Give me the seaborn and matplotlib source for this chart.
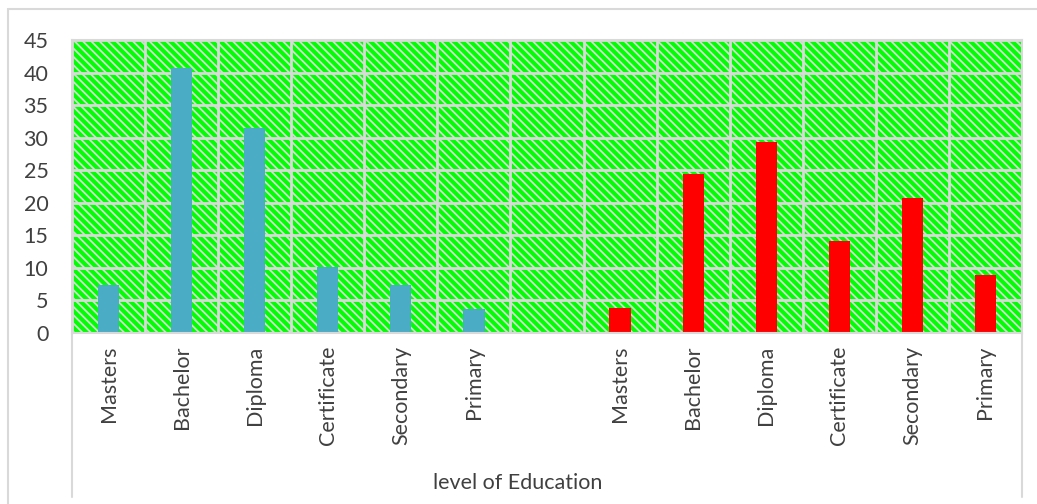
import matplotlib
matplotlib.use("Agg")
import matplotlib.pyplot as plt
from matplotlib.patches import Rectangle
from matplotlib.lines import Line2D
import seaborn as sns
import pandas as pd
import numpy as np

# Education levels, two groups separated by an empty slot
levels = ["Masters", "Bachelor", "Diploma", "Certificate", "Secondary", "Primary"]
group_a = [7.4, 40.7, 31.5, 10.2, 7.4, 3.7]
group_b = [3.9, 24.4, 29.4, 14.1, 20.7, 8.9]
y_ticks = [0, 5, 10, 15, 20, 25, 30, 35, 40, 45]
x_title = "level of Education"

tick_labels = levels + [""] + levels
slots = list(range(len(tick_labels)))

df = pd.DataFrame({
    "slot": slots[:6] + slots[7:],
    "value": group_a + group_b,
    "group": ["a"] * 6 + ["b"] * 6,
})

W, H = 1037, 504
sns.set_theme(style="white")
plt.rcParams["font.family"] = ["Lato", "DejaVu Sans"]
plt.rcParams["hatch.linewidth"] = 1.3
FS = 15.5

fig = plt.figure(figsize=(W / 100, H / 100), dpi=100)
left, right, top, bottom = 72, 1022, 40, 333
ax = fig.add_axes([left / W, 1 - bottom / H, (right - left) / W, (bottom - top) / H])

# patterned plot-area background
ax.set_facecolor("#00FF00")
bg = Rectangle((0, 0), 1, 1, transform=ax.transAxes, facecolor="#00FF00",
               edgecolor="#D9D9D9", hatch="\\\\\\\\", lw=0, zorder=0.1)
ax.add_patch(bg)

sns.barplot(data=df, x="slot", y="value", hue="group", order=slots,
            palette={"a": "#4BACC6", "b": "#FF0000"}, dodge=False,
            width=0.29, legend=False, ax=ax, zorder=2, saturation=1,
            linewidth=0, edgecolor="none")

ax.set_xlim(-0.5, len(slots) - 0.5)
ax.set_ylim(0, 45)
ax.set_yticks(y_ticks)
ax.set_xticks(slots)
ax.set_xticklabels(tick_labels, rotation=90, ha="center", va="top")
ax.set_xticks(np.arange(-0.5, len(slots), 1), minor=True)
ax.set_axisbelow(True)
ax.grid(axis="y", which="major", color="#D9D9D9", lw=2, zorder=0.5)
ax.grid(axis="x", which="minor", color="#D9D9D9", lw=2, zorder=0.5)
ax.grid(axis="x", which="major", visible=False)
ax.tick_params(axis="both", which="both", length=0)
ax.tick_params(axis="y", labelsize=FS, labelcolor="#404040", pad=17)
ax.tick_params(axis="x", labelsize=FS, labelcolor="#404040", pad=9)
ax.set_xlabel("")
ax.set_ylabel("")
for s in ax.spines.values():
    s.set_color("#D9D9D9")
    s.set_linewidth(1.5)

# chart outline and axis group separators
gray = "#D9D9D9"
fig.add_artist(Line2D([8 / W, 1], [1 - 9 / H, 1 - 9 / H], transform=fig.transFigure, color=gray, lw=1.5))
fig.add_artist(Line2D([8 / W, 8 / W], [1 - 9 / H, 0], transform=fig.transFigure, color=gray, lw=1.5))
for xp in (left, right):
    fig.add_artist(Line2D([xp / W, xp / W], [1 - bottom / H, 1 - 497 / H],
                          transform=fig.transFigure, color=gray, lw=1.5))

fig.text(518 / W, 1 - 483 / H, x_title, ha="center", va="center", fontsize=FS, color="#404040")

fig.savefig("out.png", dpi=100)
